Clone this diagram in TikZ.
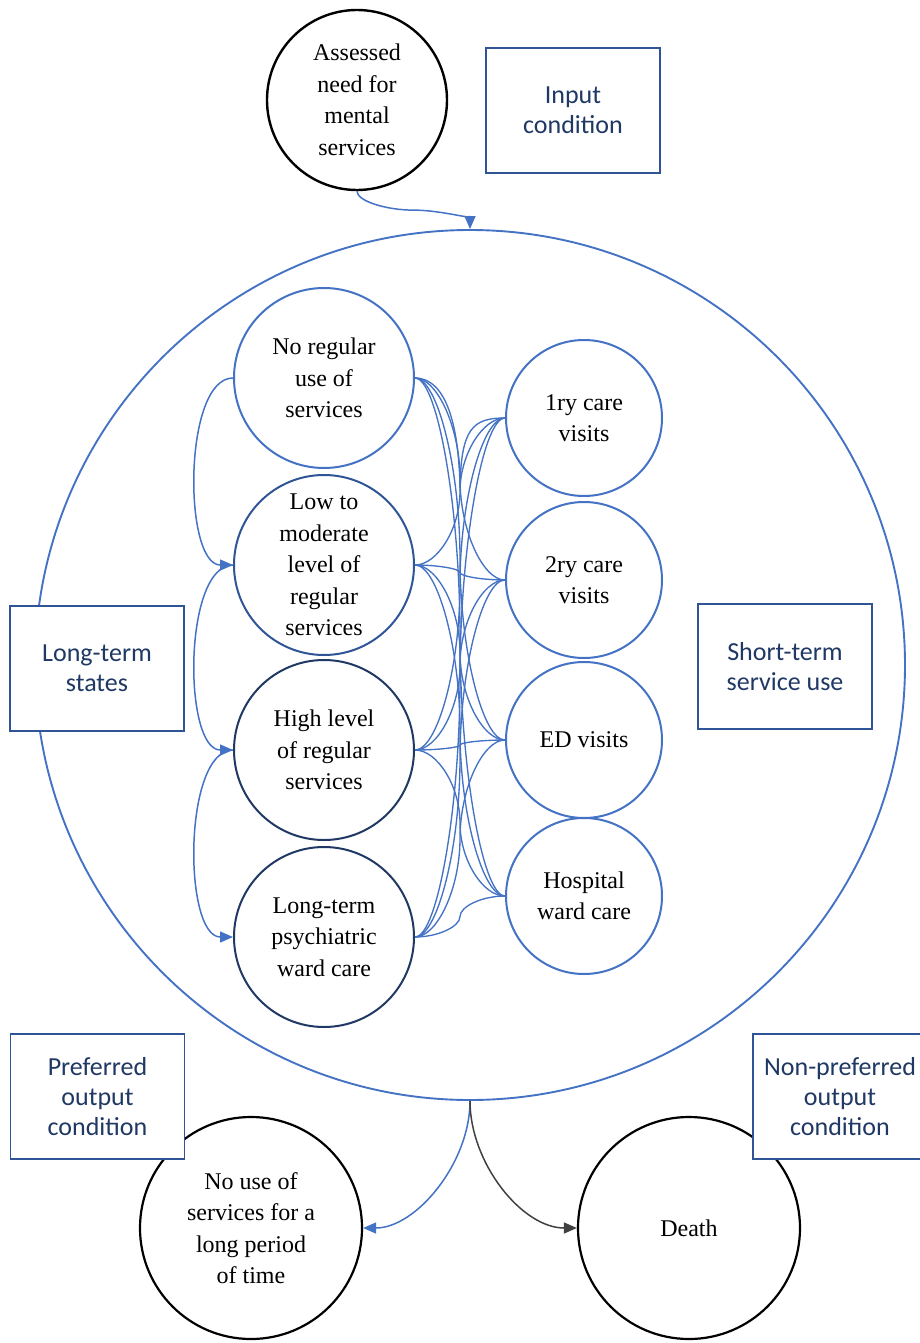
\documentclass[tikz,border=0pt]{standalone}
\usepackage{fontspec}
\setmainfont{Liberation Serif}
\newfontfamily\statefont{Liberation Serif}
\newfontfamily\boxfont{Carlito}
\usetikzlibrary{arrows.meta,calc}
\definecolor{lineblue}{HTML}{4472C4}
\definecolor{midblue}{HTML}{2F5597}
\definecolor{navy}{HTML}{203864}
\definecolor{boxtext}{HTML}{1F3864}
\definecolor{darkgrey}{HTML}{404040}
\begin{document}
\begin{tikzpicture}[x=1pt,y=-1pt,
  state/.style={circle, draw=#1, line width=2pt, inner sep=0pt, align=center,
    fill=white, font=\statefont\fontsize{24}{31.5}\selectfont},
  longstate/.style={state=#1, minimum size=180pt},
  shortstate/.style={state=lineblue, minimum size=156pt},
  endstate/.style={state=black, line width=2.2pt, minimum size=222pt},
  tag/.style={draw=midblue, line width=1.8pt, fill=white, minimum width=174pt,
    minimum height=125pt, align=center, text=boxtext,
    font=\boxfont\fontsize{26}{30}\selectfont},
  link/.style={draw=lineblue, line width=1.35pt},
  arr/.style={draw=lineblue, line width=1.5pt, -{Triangle[length=13pt,width=11pt]}},
  darkarr/.style={arr, draw=darkgrey},
  cc3/.style={to path={let \p1=(\tikztostart), \p2=(\tikztotarget) in
    .. controls ({(3*\x1+\x2)/4},\y1) and ({(\x1+\x2)/2},{(3*\y1+\y2)/4})
    .. ({(\x1+\x2)/2},{(\y1+\y2)/2})
    .. controls ({(\x1+\x2)/2},{(\y1+3*\y2)/4}) and ({(\x1+3*\x2)/4},\y2)
    .. (\tikztotarget)}}
]
\useasboundingbox (0,0) rectangle (920,1343);

% enclosing circle of all service states
\node[circle, draw=lineblue, line width=1.9pt, minimum size=870pt, inner sep=0pt] (big) at (470,665) {};

% output conditions
\node[endstate] (pref) at (251,1228) {No use of\\services for a\\long period\\of time};
\node[endstate] (death) at (689,1228) {Death};

% labels
\node[tag] (lin) at (573,110.5) {Input\\condition};
\node[tag] (llong) at (97,668.5) {Long-term\\states};
\node[tag] (lshort) at (785,666.5) {Short-term\\service use};
\node[tag] (lpref) at (97.5,1096.5) {Preferred\\output\\condition};
\node[tag] (lnon) at (840,1096.5) {Non-preferred\\output\\condition};

% input condition
\node[state=black, line width=2.4pt, minimum size=180pt] (need) at (357,100) {Assessed\\need for\\mental\\services};

% long-term states
\node[longstate=lineblue] (n1) at (324,378) {No regular\\use of\\services};
\node[longstate=midblue] (n2) at (324,565) {Low to\\moderate\\level of\\regular\\services};
\node[longstate=navy] (n3) at (324,750) {High level\\of regular\\services};
\node[longstate=navy] (n4) at (324,937) {Long-term\\psychiatric\\ward care};

% short-term service use
\node[shortstate] (r1) at (584,418) {1ry care\\visits};
\node[shortstate] (r2) at (584,580) {2ry care\\visits};
\node[shortstate] (r3) at (584,740) {ED visits};
\node[shortstate] (r4) at (584,896) {Hospital\\ward care};

% every long-term state links to every short-term use
\foreach \b in {r2,r3,r4}
  \draw[link] (n1.east) to[cc3] (\b.west);
\foreach \a in {n2,n3,n4}
  \foreach \b in {r1,r2,r3,r4}
    \draw[link] (\a.east) to[cc3] (\b.west);
% the nearest pair dips down between the two columns
\coordinate (dip) at ($(n1.east)!0.5!(r1.west)+(0,90)$);
\draw[link] (n1.east) .. controls +(32,0) and +(-1,-60) .. (dip)
  .. controls +(1,-60) and +(-32,0) .. (r1.west);

% transitions between long-term states
\draw[arr] (n1.west) .. controls +(-50,0) and +(-50,0) .. (n2.west);
\draw[arr] (n2.west) .. controls +(-50,0) and +(-50,0) .. (n3.west);
\draw[arr] (n3.west) .. controls +(-50,0) and +(-50,0) .. (n4.west);

% entry into the system
\coordinate (entry) at ($(need.south)!0.5!(big.north)$);
\draw[arr] (need.south) .. controls +(0,10) and +(-27,0) .. (entry)
  .. controls +(27,0) and +(0,-10) .. (big.north);

% exits from the system
\draw[arr] (big.south) .. controls +(0,62) and +(53,0) .. (pref.east);
\draw[darkarr] (big.south) .. controls +(0,62) and +(-55,0) .. (death.west);
\end{tikzpicture}
\end{document}
